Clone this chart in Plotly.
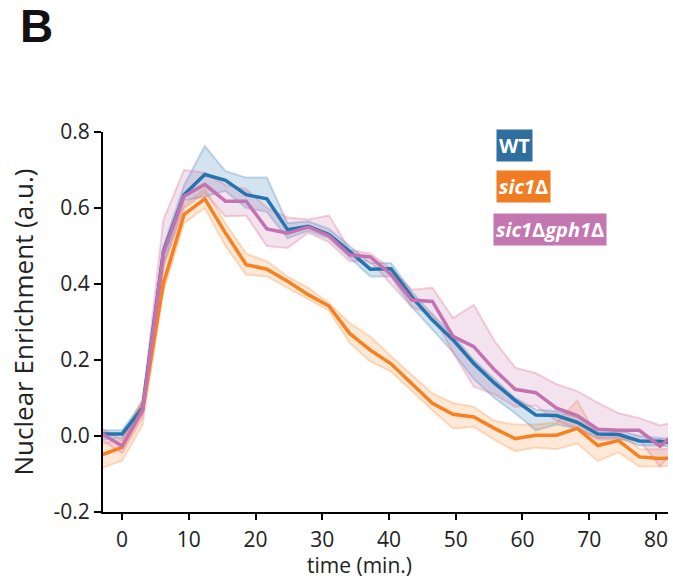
import plotly.graph_objects as go

times = [-3.1, 0.0, 3.1, 6.2, 9.3, 12.4, 15.5, 18.6, 21.7, 24.8, 27.9, 31.0, 34.1, 37.2,
         40.3, 43.4, 46.5, 49.6, 52.7, 55.8, 58.9, 62.0, 65.1, 68.2, 71.3, 74.4, 77.5, 80.6, 83.7]

wt_mean = [0.005, 0.005, 0.075, 0.485, 0.635, 0.688, 0.673, 0.635, 0.624, 0.543, 0.552, 0.53, 0.486, 0.439,
           0.44, 0.367, 0.305, 0.253, 0.191, 0.139, 0.094, 0.055, 0.054, 0.036, 0.005, 0.004, -0.013, -0.014, -0.02]
wt_lo = [-0.01, -0.005, 0.06, 0.45, 0.62, 0.63, 0.645, 0.6, 0.59, 0.52, 0.54, 0.52, 0.47, 0.42,
         0.42, 0.34, 0.28, 0.22, 0.15, 0.10, 0.06, 0.015, 0.03, 0.02, -0.005, -0.005, -0.025, -0.025, -0.03]
wt_hi = [0.015, 0.015, 0.09, 0.5, 0.66, 0.763, 0.697, 0.68, 0.68, 0.56, 0.565, 0.545, 0.5, 0.455,
         0.455, 0.38, 0.32, 0.265, 0.2, 0.15, 0.1, 0.07, 0.065, 0.05, 0.015, 0.015, 0.0, -0.005, -0.01]

sic_mean = [-0.05, -0.03, 0.07, 0.402, 0.583, 0.624, 0.534, 0.451, 0.439, 0.407, 0.372, 0.342, 0.27, 0.226,
            0.19, 0.139, 0.086, 0.057, 0.05, 0.02, -0.007, 0.002, 0.002, 0.02, -0.025, -0.012, -0.055, -0.059, -0.058]
sic_lo = [-0.085, -0.065, 0.03, 0.38, 0.56, 0.60, 0.50, 0.424, 0.42, 0.39, 0.36, 0.33, 0.245, 0.196,
          0.17, 0.12, 0.068, 0.02, 0.024, -0.01, -0.04, -0.03, -0.035, -0.02, -0.066, -0.043, -0.08, -0.08, -0.078]
sic_hi = [-0.02, -0.01, 0.1, 0.44, 0.61, 0.65, 0.56, 0.48, 0.46, 0.42, 0.39, 0.35, 0.297, 0.262,
          0.21, 0.16, 0.112, 0.087, 0.077, 0.04, 0.03, 0.03, 0.035, 0.093, -0.005, 0.015, -0.034, -0.035, -0.033]

gph_mean = [0.007, -0.026, 0.068, 0.48, 0.631, 0.662, 0.618, 0.618, 0.545, 0.534, 0.55, 0.527, 0.477, 0.471,
            0.425, 0.358, 0.354, 0.262, 0.235, 0.174, 0.123, 0.114, 0.073, 0.054, 0.018, 0.015, 0.015, -0.027, 0.02]
gph_lo = [-0.01, -0.045, 0.05, 0.45, 0.6, 0.64, 0.578, 0.58, 0.50, 0.495, 0.535, 0.51, 0.46, 0.46,
          0.40, 0.34, 0.32, 0.22, 0.13, 0.11, 0.077, 0.08, 0.04, 0.02, -0.01, -0.01, -0.01, -0.08, -0.02]
gph_hi = [0.02, -0.01, 0.09, 0.569, 0.70, 0.693, 0.66, 0.65, 0.60, 0.575, 0.57, 0.58, 0.49, 0.48,
          0.44, 0.385, 0.39, 0.31, 0.345, 0.25, 0.18, 0.165, 0.136, 0.118, 0.087, 0.06, 0.047, 0.028, 0.04]

y_ticks = [-0.2, 0.0, 0.2, 0.4, 0.6, 0.8]
y_ticktext = ["-0.2", "0.0", "0.2", "0.4", "0.6", "0.8"]
x_ticks = [0, 10, 20, 30, 40, 50, 60, 70, 80]

series = [
    ("WT", wt_mean, wt_lo, wt_hi, "#2474b0", "rgba(36,116,176,0.2)", "rgba(36,116,176,0.25)"),
    ("sic1Δ", sic_mean, sic_lo, sic_hi, "#f7811f", "rgba(247,129,31,0.18)", "rgba(247,129,31,0.25)"),
    ("sic1Δgph1Δ", gph_mean, gph_lo, gph_hi, "#c573b0", "rgba(197,115,176,0.2)", "rgba(225,120,150,0.35)"),
]

fig = go.Figure()
for name, m, lo, hi, col, fillc, edgec in series:
    fig.add_trace(go.Scatter(
        x=times + times[::-1], y=hi + lo[::-1], fill="toself", fillcolor=fillc,
        line=dict(color=edgec, width=2), mode="lines", showlegend=False, hoverinfo="skip"))
for name, m, lo, hi, col, fillc, edgec in series:
    fig.add_trace(go.Scatter(x=times, y=m, mode="lines", line=dict(color=col, width=3.5),
                             name=name, showlegend=False))

font_main = "Open Sans, Noto Sans, sans-serif"
L, R, T, B = 103, 5, 132, 67
W, H = 673, 579
pw, ph = W - L - R, H - T - B

def px(x):
    return (x - L) / pw

def py(y):
    return (H - B - y) / ph

legend_items = [
    ("<b>WT</b>", "#2e6fa0", 496, 145.5),
    ("<b><i>sic1</i>Δ</b>", "#f07c24", 496, 186.5),
    ("<b><i>sic1</i>Δ<i>gph1</i>Δ</b>", "#c476b1", 493, 229),
]
annotations = []
for txt, bg, x0, yc in legend_items:
    annotations.append(dict(text=txt, x=px(x0), y=py(yc), xref="paper", yref="paper",
                            xanchor="left", yanchor="middle", showarrow=False,
                            bgcolor=bg, borderpad=2,
                            font=dict(family=font_main, size=20, color="white")))
annotations.append(dict(text="<b>B</b>", x=px(19), y=py(53), xref="paper", yref="paper",
                        xanchor="left", yanchor="bottom", showarrow=False, borderpad=0,
                        font=dict(family="Liberation Sans, Arial, sans-serif", size=46, color="#111")))
annotations.append(dict(text="time (min.)", x=px(359), y=py(565), xref="paper", yref="paper",
                        xanchor="center", yanchor="middle", showarrow=False,
                        font=dict(family=font_main, size=21, color="#222")))

fig.update_layout(
    width=W, height=H, margin=dict(l=L, r=R, t=T, b=B),
    plot_bgcolor="white", paper_bgcolor="white",
    annotations=annotations,
    font=dict(family=font_main, color="#222"),
    xaxis=dict(range=[-2.85, 81.8], tickvals=x_ticks, showgrid=False, zeroline=False,
               showline=True, linecolor="black", linewidth=2, ticks="outside", ticklen=6,
               tickwidth=2, tickcolor="black", tickfont=dict(size=21, color="#222"),
               ticklabelstandoff=2),
    yaxis=dict(range=[-0.2, 0.8], tickvals=y_ticks, ticktext=y_ticktext, showgrid=False,
               zeroline=False, showline=True, linecolor="black", linewidth=2, ticks="outside",
               ticklen=7, tickwidth=2, tickcolor="black", tickfont=dict(size=21, color="#222"),
               title=dict(text="Nuclear Enrichment (a.u.)", font=dict(size=26, color="#222"), standoff=12)),
)

fig.write_html("out.html")
